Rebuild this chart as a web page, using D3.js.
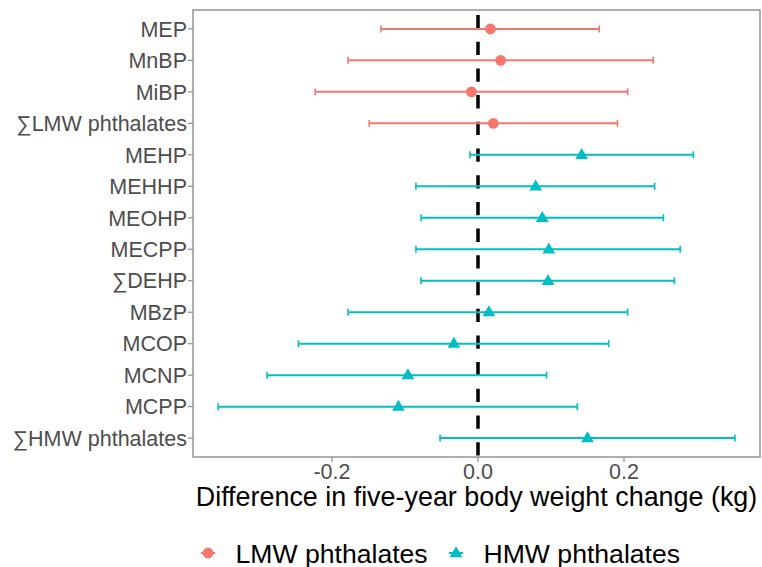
<!DOCTYPE html>
<html>
<head>
<meta charset="utf-8">
<script src="https://cdn.jsdelivr.net/npm/d3@7"></script>
<style>
  html, body { margin: 0; padding: 0; background: #fff; }
  svg { display: block; font-family: "Liberation Sans", Arial, sans-serif; }
</style>
</head>
<body>
<svg id="chart" width="762" height="567"></svg>
<script>
const categories = ["MEP", "MnBP", "MiBP", "∑LMW phthalates", "MEHP", "MEHHP", "MEOHP",
  "MECPP", "∑DEHP", "MBzP", "MCOP", "MCNP", "MCPP", "∑HMW phthalates"];
const groups = ["LMW", "LMW", "LMW", "LMW", "HMW", "HMW", "HMW",
  "HMW", "HMW", "HMW", "HMW", "HMW", "HMW", "HMW"];
const estimates = [0.017, 0.031, -0.009, 0.021, 0.142, 0.079, 0.088,
  0.097, 0.096, 0.015, -0.033, -0.096, -0.109, 0.150];
const lowers = [-0.133, -0.178, -0.223, -0.149, -0.011, -0.085, -0.078,
  -0.085, -0.078, -0.178, -0.246, -0.289, -0.356, -0.052];
const uppers = [0.166, 0.240, 0.205, 0.191, 0.295, 0.242, 0.254,
  0.277, 0.269, 0.205, 0.179, 0.094, 0.136, 0.352];
const xTicks = [-0.2, 0.0, 0.2];
const xTickLabels = ["-0.2", "0.0", "0.2"];
const legendLabels = ["LMW phthalates", "HMW phthalates"];
const groupKeys = ["LMW", "HMW"];
const colors = { LMW: "#F8766D", HMW: "#00BFC4" };

const data = categories.map((c, i) => ({
  cat: c, group: groups[i], est: estimates[i], lo: lowers[i], hi: uppers[i]
}));

const svg = d3.select("#chart");
const panel = { left: 193, top: 10, right: 760, bottom: 457 };

const x = d3.scaleLinear().domain([-0.3904, 0.3863]).range([panel.left, panel.right]);
const y = d3.scalePoint().domain(categories).range([panel.top, panel.bottom]).padding(0.6);

// Zero reference line
svg.append("line")
  .attr("x1", x(0)).attr("x2", x(0))
  .attr("y1", panel.top).attr("y2", panel.bottom)
  .attr("stroke", "#000").attr("stroke-width", 3.5)
  .attr("stroke-dasharray", "13.3 13.4")
  .attr("stroke-dashoffset", 21.7);

// Error bars
const rows = svg.append("g").selectAll("g").data(data).join("g");
rows.append("line")
  .attr("x1", d => x(d.lo)).attr("x2", d => x(d.hi))
  .attr("y1", d => y(d.cat)).attr("y2", d => y(d.cat))
  .attr("stroke", d => colors[d.group]).attr("stroke-width", 2);
rows.append("line")
  .attr("x1", d => x(d.lo)).attr("x2", d => x(d.lo))
  .attr("y1", d => y(d.cat) - 3.5).attr("y2", d => y(d.cat) + 3.5)
  .attr("stroke", d => colors[d.group]).attr("stroke-width", 1.6);
rows.append("line")
  .attr("x1", d => x(d.hi)).attr("x2", d => x(d.hi))
  .attr("y1", d => y(d.cat) - 3.5).attr("y2", d => y(d.cat) + 3.5)
  .attr("stroke", d => colors[d.group]).attr("stroke-width", 1.6);

// Points
const sym = {
  LMW: d3.symbol().type(d3.symbolCircle).size(92),
  HMW: d3.symbol().type(d3.symbolTriangle).size(70)
};
rows.append("path")
  .attr("d", d => sym[d.group]())
  .attr("transform", d => `translate(${x(d.est)},${y(d.cat) + (d.group === "HMW" ? 0.5 : 0)})`)
  .attr("fill", d => colors[d.group]);

// Panel border
svg.append("rect")
  .attr("x", panel.left).attr("y", panel.top)
  .attr("width", panel.right - panel.left).attr("height", panel.bottom - panel.top)
  .attr("fill", "none").attr("stroke", "#8c8c8c").attr("stroke-width", 1.4);

// Y axis
const yAxis = svg.append("g");
categories.forEach(c => {
  yAxis.append("line")
    .attr("x1", panel.left - 5).attr("x2", panel.left)
    .attr("y1", y(c)).attr("y2", y(c))
    .attr("stroke", "#8c8c8c").attr("stroke-width", 1.2);
  yAxis.append("text")
    .attr("x", panel.left - 6).attr("y", y(c))
    .attr("dy", "0.36em")
    .attr("text-anchor", "end")
    .attr("font-size", 21.5)
    .attr("fill", "#4D4D4D")
    .text(c);
});

// X axis
const xAxis = svg.append("g");
xTicks.forEach((t, i) => {
  xAxis.append("line")
    .attr("x1", x(t)).attr("x2", x(t))
    .attr("y1", panel.bottom).attr("y2", panel.bottom + 5)
    .attr("stroke", "#8c8c8c").attr("stroke-width", 1.2);
  xAxis.append("text")
    .attr("x", x(t)).attr("y", 478.5)
    .attr("text-anchor", "middle")
    .attr("font-size", 21.5)
    .attr("fill", "#4D4D4D")
    .text(xTickLabels[i]);
});

// X title
svg.append("text")
  .attr("x", (panel.left + panel.right) / 2).attr("y", 506)
  .attr("text-anchor", "middle")
  .attr("font-size", 26.9)
  .attr("fill", "#000")
  .text("Difference in five-year body weight change (kg)");

// Legend
const legendY = 553;
const legendX = [208, 456];
groupKeys.forEach((g, i) => {
  const lg = svg.append("g").attr("transform", `translate(${legendX[i]},${legendY})`);
  lg.append("line").attr("x1", -7).attr("x2", 7).attr("y1", 0).attr("y2", 0)
    .attr("stroke", colors[g]).attr("stroke-width", 2);
  lg.append("path").attr("d", sym[g]()).attr("fill", colors[g])
    .attr("transform", g === "HMW" ? "translate(0,0.5)" : null);
  lg.append("text")
    .attr("x", 27.5).attr("y", 9.5)
    .attr("font-size", 26.6)
    .attr("fill", "#000")
    .text(legendLabels[i]);
});
</script>
</body>
</html>
